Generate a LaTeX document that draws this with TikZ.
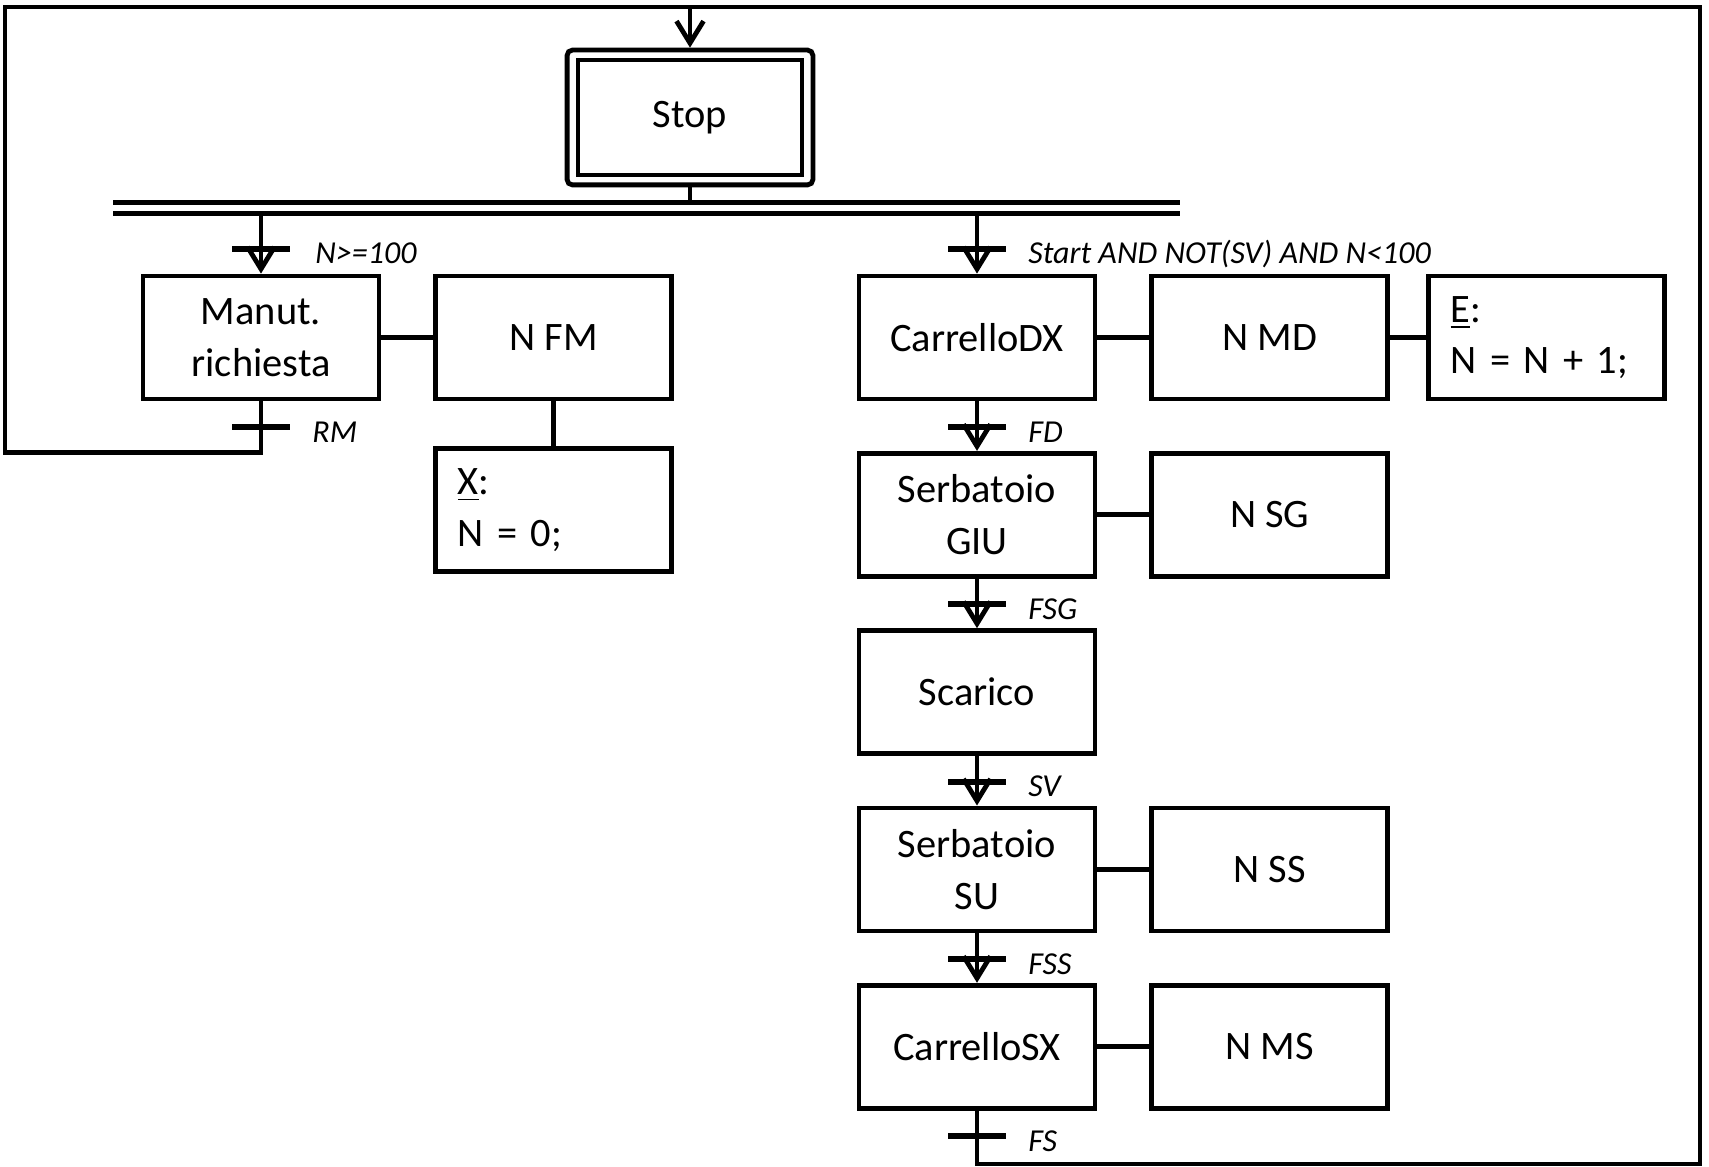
\documentclass[tikz,border=0pt]{standalone}
\usepackage{fontspec}
\setmainfont{Carlito}
\usetikzlibrary{positioning, arrows.meta, fit}

\begin{document}
\begin{tikzpicture}[
      node distance=4.95mm,
      line/.style={line width=0.048cm},
      arr/.style={line, -{Straight Barb[length=2.2mm, width=2.7mm]}},
      stepbox/.style={draw, line width=0.048cm, minimum width=2.36cm, minimum height=1.23cm, align=center, inner sep=2pt, font=\fontsize{11.5pt}{14.7pt}\selectfont},
      actbox/.style={stepbox},
      codebox/.style={stepbox, align=left, text width=1.92cm, inner xsep=0.22cm},
      trans/.style={fill, inner sep=0pt, minimum width=0.58cm, minimum height=0.06cm},
      lbl/.style={font=\fontsize{9.1pt}{11pt}\selectfont\itshape, inner sep=0pt}]

    \useasboundingbox (0,0) rectangle (17.09,-11.67);

    % initial step
    \node[stepbox, minimum width=2.24cm, minimum height=1.15cm] (stop) at (6.90,-1.175) {Stop};
    \node[draw, line width=0.048cm, rounded corners=1.5pt, fit=(stop), inner xsep=0.085cm, inner ysep=0.075cm] (stopfrm) {};

    % divergence bar
    \coordinate (barhi) at (1.13,-2.025);
    \coordinate (barlo) at (1.13,-2.135);
    \draw[line] (barhi) -- ++(10.67,0);
    \draw[line] (barlo) -- ++(10.67,0);
    \draw[line] (stopfrm) -- (stopfrm |- barhi);

    % left branch
    \node[stepbox] (manut) at (2.61,-3.375) {Manut.\\richiesta};
    \node[actbox, right=5.2mm of manut] (nfm) {N FM};
    \node[codebox, below=4.5mm of nfm] (xact) {\underline{X}:\\N = 0;};

    % right branch
    \node[stepbox] (cdx) at (9.77,-3.375) {CarrelloDX};
    \node[actbox, right=5.2mm of cdx] (nmd) {N MD};
    \node[codebox, right=3.6mm of nmd] (eact) {\underline{E}:\\N = N + 1;};
    \node[stepbox, below=of cdx] (sgiu) {Serbatoio\\GIU};
    \node[actbox, right=5.2mm of sgiu] (nsg) {N SG};
    \node[stepbox, below=of sgiu] (scar) {Scarico};
    \node[stepbox, below=of scar] (ssu) {Serbatoio\\SU};
    \node[actbox, right=5.2mm of ssu] (nss) {N SS};
    \node[stepbox, below=of ssu] (csx) {CarrelloSX};
    \node[actbox, right=5.2mm of csx] (nms) {N MS};

    % links
    \draw[arr] (manut |- barlo) -- (manut);
    \draw[arr] (cdx |- barlo) -- (cdx);
    \draw[arr] (cdx) -- (sgiu);
    \draw[arr] (sgiu) -- (scar);
    \draw[arr] (scar) -- (ssu);
    \draw[arr] (ssu) -- (csx);
    \draw[line] (manut) -- (nfm);
    \draw[line] (nfm) -- (xact);
    \draw[line] (cdx) -- (nmd);
    \draw[line] (nmd) -- (eact);
    \draw[line] (sgiu) -- (nsg);
    \draw[line] (ssu) -- (nss);
    \draw[line] (csx) -- (nms);

    % loops back to Stop
    \coordinate (topl) at (0.05,-0.07);
    \coordinate (topr) at (17.00,-0.07);
    \coordinate (loopl) at (0.05,-4.527);
    \coordinate (loopr) at (17.00,-11.64);
    \draw[line] (manut) -- (manut |- loopl) -- (loopl) -- (topl) -- (topr) -- (loopr) -- (csx |- loopr) -- (csx);
    \draw[arr] (stopfrm |- topl) -- (stopfrm);

    % transitions
    \node[trans, above=2.1mm of manut] (tn100) {};
    \node[trans, below=2.2mm of manut] (trm) {};
    \node[trans, above=2.1mm of cdx] (tstart) {};
    \node[trans, below=2.2mm of cdx] (tfd) {};
    \node[trans, below=2.2mm of sgiu] (tfsg) {};
    \node[trans, below=2.2mm of scar] (tsv) {};
    \node[trans, below=2.2mm of ssu] (tfss) {};
    \node[trans, below=2.2mm of csx] (tfs) {};

    \node[lbl, right=2.4mm of tn100, anchor=base west, yshift=-1.5mm] (ln100) {N>=100};
    \node[lbl, right=2.1mm of trm, anchor=base west, yshift=-1.5mm] (lrm) {RM};
    \node[lbl, right=2.1mm of tstart, anchor=base west, yshift=-1.5mm] (lstart) {Start AND NOT(SV) AND N<100};
    \node[lbl, right=2.1mm of tfd, anchor=base west, yshift=-1.5mm] (lfd) {FD};
    \node[lbl, right=2.1mm of tfsg, anchor=base west, yshift=-1.5mm] (lfsg) {FSG};
    \node[lbl, right=2.1mm of tsv, anchor=base west, yshift=-1.5mm] (lsv) {SV};
    \node[lbl, right=2.1mm of tfss, anchor=base west, yshift=-1.5mm] (lfss) {FSS};
    \node[lbl, right=2.1mm of tfs, anchor=base west, yshift=-1.5mm] (lfs) {FS};
  \end{tikzpicture}
\end{document}
